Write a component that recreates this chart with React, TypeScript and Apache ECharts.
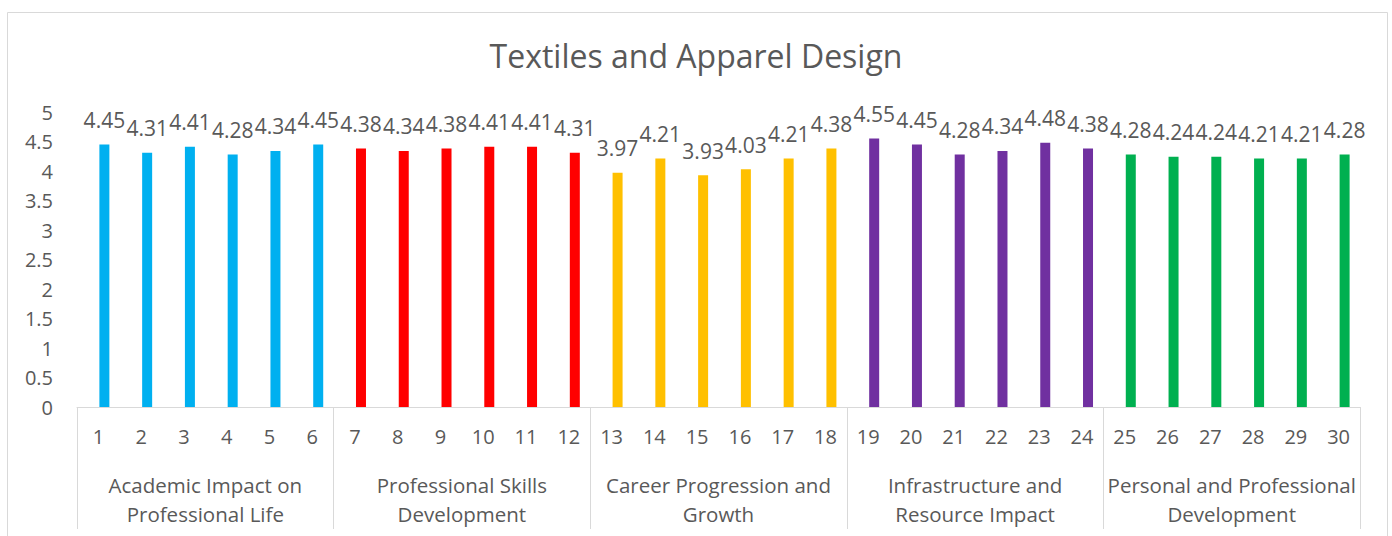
import React, { useEffect, useRef } from "react";
import * as echarts from "echarts";

const items = Array.from({ length: 30 }, (_, i) => String(i + 1));
const values = [
  4.45, 4.31, 4.41, 4.28, 4.34, 4.45,
  4.38, 4.34, 4.38, 4.41, 4.41, 4.31,
  3.97, 4.21, 3.93, 4.03, 4.21, 4.38,
  4.55, 4.45, 4.28, 4.34, 4.48, 4.38,
  4.28, 4.24, 4.24, 4.21, 4.21, 4.28,
];
const groups = [
  "Academic Impact on\nProfessional Life",
  "Professional Skills\nDevelopment",
  "Career Progression and\nGrowth",
  "Infrastructure and\nResource Impact",
  "Personal and Professional\nDevelopment",
];
const groupColors = ["#00B0F0", "#FF0000", "#FFC000", "#7030A0", "#00B050"];
const title = "Textiles and Apparel Design";

const FONT = "Open Sans";
const TXT = "#595959";

export default function App() {
  const ref = useRef<HTMLDivElement>(null);
  useEffect(() => {
    const chart = echarts.init(ref.current!, undefined, { renderer: "svg" });
    chart.setOption({
      animation: false,
      backgroundColor: "#fff",
      textStyle: { fontFamily: FONT },
      title: {
        text: title,
        left: "center",
        top: 34,
        textStyle: { fontFamily: FONT, fontSize: 32, fontWeight: "normal", color: TXT },
      },
      graphic: [
        {
          type: "rect",
          shape: { x: 7.5, y: 12.5, width: 1380, height: 540 },
          style: { fill: "none", stroke: "#D9D9D9", lineWidth: 1 },
          silent: true,
        },
      ],
      grid: { left: 77, right: 32, top: 112, bottom: 129 },
      xAxis: [
        {
          type: "category",
          data: items,
          position: "bottom",
          axisLine: { lineStyle: { color: "#D9D9D9", width: 1 } },
          axisTick: { show: false },
          axisLabel: { color: TXT, fontSize: 20, fontFamily: FONT, margin: 19, interval: 0 },
        },
        {
          type: "category",
          data: groups,
          position: "bottom",
          axisLine: { show: false },
          axisTick: { show: true, length: 122, lineStyle: { color: "#D9D9D9", width: 1 } },
          axisLabel: {
            color: TXT,
            fontSize: 20.5,
            fontFamily: FONT,
            margin: 63,
            lineHeight: 29,
            interval: 0,
          },
        },
      ],
      yAxis: {
        type: "value",
        min: 0,
        max: 5,
        interval: 0.5,
        axisLine: { show: false },
        axisTick: { show: false },
        splitLine: { show: false },
        axisLabel: { color: TXT, fontSize: 20, fontFamily: FONT, margin: 24 },
      },
      series: [
        {
          type: "bar",
          xAxisIndex: 0,
          data: items.map(() => null),
          barWidth: 10,
          barGap: "20%",
          silent: true,
        },
        {
          type: "bar",
          xAxisIndex: 0,
          barWidth: 10,
          barGap: "20%",
          data: values.map((v, i) => ({
            value: v,
            itemStyle: { color: groupColors[Math.floor(i / 6)] },
          })),
          label: {
            show: true,
            position: "top",
            distance: 14,
            color: TXT,
            fontSize: 21,
            fontFamily: FONT,
          },
        },
      ],
    });
    return () => chart.dispose();
  }, []);
  return (
    <div
      ref={ref}
      style={{ position: "fixed", left: 0, top: 0, width: 1392, height: 536 }}
    />
  );
}
